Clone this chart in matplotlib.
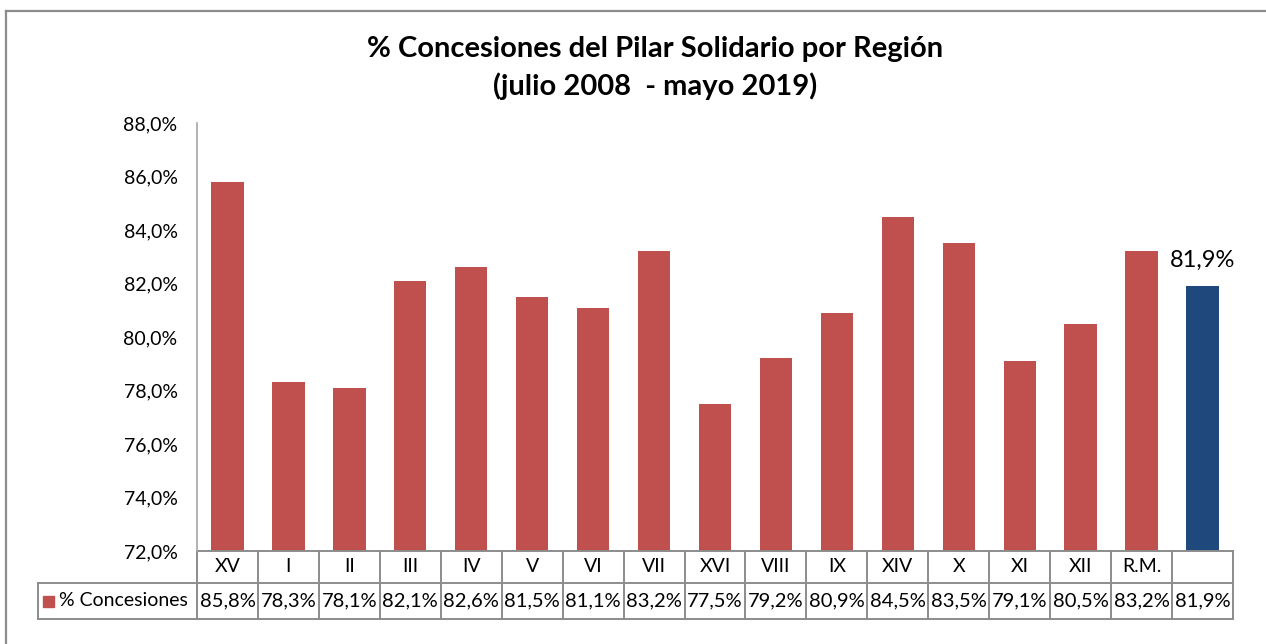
import matplotlib
matplotlib.use("Agg")
import matplotlib.pyplot as plt
from matplotlib.patches import Rectangle
from matplotlib.lines import Line2D
import matplotlib.transforms as mtransforms

plt.rcParams['font.family'] = ['Lato', 'DejaVu Sans']

categories = ["XV", "I", "II", "III", "IV", "V", "VI", "VII", "XVI", "VIII",
              "IX", "XIV", "X", "XI", "XII", "R.M.", ""]
values = [85.8, 78.3, 78.1, 82.1, 82.6, 81.5, 81.1, 83.2, 77.5, 79.2,
          80.9, 84.5, 83.5, 79.1, 80.5, 83.2, 81.9]
series_name = "% Concesiones"
title = "% Concesiones del Pilar Solidario por Región\n(julio 2008  - mayo 2019)"
yticks = [72, 74, 76, 78, 80, 82, 84, 86, 88]

red = "#C0504D"
blue = "#1F497D"
grid_gray = "#8C8C8C"

W, H = 1266, 644
fig = plt.figure(figsize=(W / 100, H / 100), dpi=100)

# figure border (top and left visible)
fig.add_artist(Line2D([6 / W, 6 / W], [0, 1 - 11 / H], transform=fig.transFigure,
                      color="#8C8C8C", lw=1.6))
fig.add_artist(Line2D([6 / W, 1], [1 - 11 / H, 1 - 11 / H], transform=fig.transFigure,
                      color="#8C8C8C", lw=1.6))

left, right, top, bottom = 197, 1233, 123, 551
ax = fig.add_axes([left / W, 1 - bottom / H, (right - left) / W, (bottom - top) / H])

colors = [red] * (len(values) - 1) + [blue]
x = list(range(len(values)))
ax.bar(x, values, width=0.53, color=colors, zorder=2)
ax.set_xlim(-0.5, len(values) - 0.5)
ax.set_ylim(72, 88)
ax.set_yticks(yticks)
ax.set_yticklabels([f"{v:.1f}%".replace(".", ",") for v in yticks], fontsize=14)
ax.tick_params(axis="y", length=0, pad=14)
ax.set_xticks([])
for s in ["top", "right", "bottom"]:
    ax.spines[s].set_visible(False)
ax.spines["left"].set_color("#A6A6A6")
ax.spines["left"].set_linewidth(1.2)

# data label on last bar
ax.annotate(f"{values[-1]:.1f}%".replace(".", ","), (x[-1], values[-1]),
            xytext=(0, 26), textcoords="offset pixels", ha="center", va="center",
            fontsize=17)

# data table
ah = bottom - top
r1 = -(583 - bottom) / ah
r2 = -(619 - bottom) / ah
trans = mtransforms.blended_transform_factory(ax.transData, ax.transAxes)
lk = dict(color=grid_gray, lw=1.4, clip_on=False, transform=trans, solid_capstyle="projecting")
n = len(values)
ax.plot([-0.5, n - 0.5], [0, 0], **lk)
ax.plot([-0.5, n - 0.5], [r1, r1], **lk)
ax.plot([-0.5, n - 0.5], [r2, r2], **lk)
for i in range(n + 1):
    ax.plot([i - 0.5, i - 0.5], [0, r2], **lk)
# row label cell
xl = -0.5 - (left - 38) / ((right - left) / n)
ax.plot([xl, -0.5], [r1, r1], **lk)
ax.plot([xl, -0.5], [r2, r2], **lk)
ax.plot([xl, xl], [r1, r2], **lk)

for i, (c, v) in enumerate(zip(categories, values)):
    ax.text(i, r1 / 2, c, transform=trans, ha="center", va="center", fontsize=14)
    ax.text(i, (r1 + r2) / 2, f"{v:.1f}%".replace(".", ","), transform=trans,
            ha="center", va="center", fontsize=14.5)

# legend key + series name
fig.patches.append(Rectangle((43 / W, 1 - 607 / H), 11 / W, 11 / H,
                             transform=fig.transFigure, color=red))
fig.text(59 / W, 1 - 601 / H, series_name, ha="left", va="center", fontsize=14)

fig.text(655 / W, 1 - 68 / H, title, ha="center", va="center", fontsize=21,
         fontweight="bold", linespacing=1.5)

fig.savefig("out.png", dpi=100)
